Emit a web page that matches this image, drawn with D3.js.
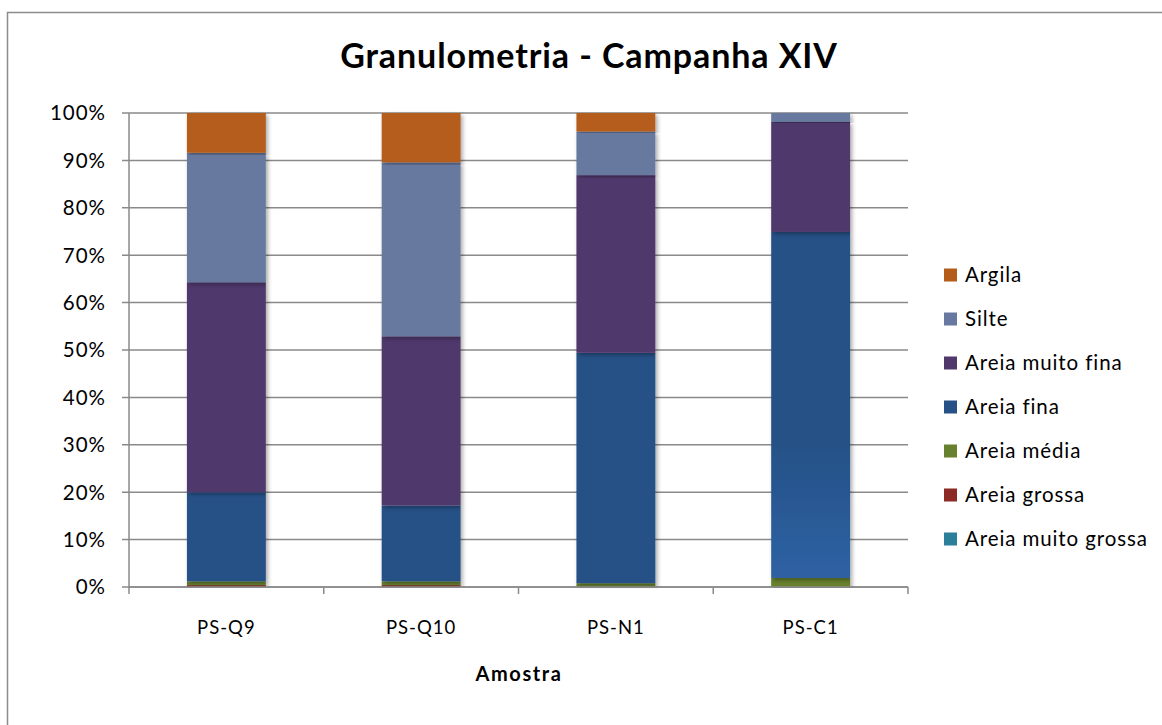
<!DOCTYPE html>
<html>
<head>
<meta charset="utf-8">
<script src="https://cdn.jsdelivr.net/npm/d3@7"></script>
<style>
  body { margin: 0; background: #fff; }
  text { font-family: Lato, "Liberation Sans", sans-serif; fill: #000; }
</style>
</head>
<body>
<div id="chart"></div>
<script>
// amostras
var categories = ["PS-Q9", "PS-Q10", "PS-N1", "PS-C1"];

// % por fração
var areiaMuitoGrossa = [0, 0, 0, 0];
var areiaGrossa = [0.4, 0.4, 0, 0];
var areiaMedia = [0.8, 0.8, 0.8, 1.9];
var areiaFina = [18.8, 16.0, 48.6, 73.0];
var areiaMuitoFina = [44.3, 35.7, 37.5, 23.2];
var silte = [27.3, 36.7, 9.2, 1.9];
var argila = [8.4, 10.4, 3.9, 0];

var yTicks = [0, 0.1, 0.2, 0.3, 0.4, 0.5, 0.6, 0.7, 0.8, 0.9, 1];

var series = [
	{ key: "Areia muito grossa", values: areiaMuitoGrossa, color: "#2b7f9b" },
	{ key: "Areia grossa", values: areiaGrossa, color: "#8c2a25" },
	{ key: "Areia média", values: areiaMedia, color: "#68812e" },
	{ key: "Areia fina", values: areiaFina, color: "#255187" },
	{ key: "Areia muito fina", values: areiaMuitoFina, color: "#50386c" },
	{ key: "Silte", values: silte, color: "#6779a0" },
	{ key: "Argila", values: argila, color: "#b45d1a" }
];

var w = 1162, h = 725;
var margin = { left: 129, right: 1162 - 908, top: 113, bottom: 725 - 587 };

var table = categories.map(function(c, i) {
	var row = { amostra: c };
	series.forEach(function(s) { row[s.key] = s.values[i]; });
	return row;
});

var stack = d3.stack()
	.keys(series.map(function(s) { return s.key; }))
	.offset(d3.stackOffsetExpand);
var stacked = stack(table);

var svg = d3.select("#chart").append("svg")
	.attr("width", w)
	.attr("height", h);

var defs = svg.append("defs");
var shadow = defs.append("filter").attr("id", "shadow")
	.attr("x", "-20%").attr("y", "-5%").attr("width", "140%").attr("height", "110%");
shadow.append("feDropShadow")
	.attr("dx", 2).attr("dy", 2).attr("stdDeviation", 2)
	.attr("flood-color", "#000").attr("flood-opacity", 0.35);

var grad = defs.append("linearGradient").attr("id", "finaGrad")
	.attr("x1", 0).attr("y1", 0).attr("x2", 0).attr("y2", 1);
grad.append("stop").attr("offset", "0.62").attr("stop-color", "#255187");
grad.append("stop").attr("offset", "1").attr("stop-color", "#2e62a4");

// moldura
svg.append("rect")
	.attr("x", 7.5).attr("y", 12.5)
	.attr("width", w).attr("height", h)
	.attr("fill", "none")
	.attr("stroke", "#8c8c8c")
	.attr("stroke-width", 1.5);

var x = d3.scaleBand()
	.domain(categories)
	.range([margin.left, w - margin.right])
	.paddingInner(0.595)
	.paddingOuter(0.2975);

var y = d3.scaleLinear()
	.domain([0, 1])
	.range([h - margin.bottom, margin.top]);

// grade
svg.append("g").selectAll("line")
	.data(yTicks)
	.enter().append("line")
	.attr("x1", margin.left - 7)
	.attr("x2", w - margin.right)
	.attr("y1", function(d) { return y(d); })
	.attr("y2", function(d) { return y(d); })
	.attr("stroke", "#8a8a8a")
	.attr("stroke-width", 1.5);

// eixo y
svg.append("line")
	.attr("x1", margin.left).attr("x2", margin.left)
	.attr("y1", y(0)).attr("y2", y(1))
	.attr("stroke", "#8a8a8a").attr("stroke-width", 1.5);

svg.append("g").selectAll("text")
	.data(yTicks)
	.enter().append("text")
	.attr("x", 106)
	.attr("y", function(d) { return y(d); })
	.attr("dy", "0.36em")
	.attr("text-anchor", "end")
	.style("font-size", "20.5px")
	.style("letter-spacing", "1px")
	.text(function(d) { return d3.format(".0%")(d); });

// barras
var layer = svg.append("g").selectAll("g")
	.data(stacked)
	.enter().append("g")
	.attr("fill", function(d, i) { return series[i].color; });

layer.selectAll("rect")
	.data(function(d) { return d; })
	.enter().append("rect")
	.attr("x", function(d) { return x(d.data.amostra); })
	.attr("width", x.bandwidth())
	.attr("y", function(d) { return y(d[1]); })
	.attr("height", function(d) { return y(d[0]) - y(d[1]); })
	.attr("filter", "url(#shadow)")
	.attr("fill", function(d) {
		var key = d3.select(this.parentNode).datum().key;
		if (key === "Areia fina" && d.data.amostra === "PS-C1") return "url(#finaGrad)";
		return null;
	});

// eixo x
svg.append("line")
	.attr("x1", margin.left).attr("x2", w - margin.right)
	.attr("y1", y(0)).attr("y2", y(0))
	.attr("stroke", "#8a8a8a").attr("stroke-width", 1.5);

var bounds = categories.map(function(c) { return x(c) - x.step() * x.paddingOuter(); });
bounds.push(w - margin.right);
svg.append("g").selectAll("line")
	.data(bounds)
	.enter().append("line")
	.attr("x1", function(d) { return d; })
	.attr("x2", function(d) { return d; })
	.attr("y1", y(0))
	.attr("y2", y(0) + 7)
	.attr("stroke", "#8a8a8a").attr("stroke-width", 1.5);

svg.append("g").selectAll("text")
	.data(categories)
	.enter().append("text")
	.attr("x", function(d) { return x(d) + x.bandwidth() / 2; })
	.attr("y", 634)
	.attr("text-anchor", "middle")
	.style("font-size", "18.5px")
	.style("letter-spacing", "1px")
	.text(function(d) { return d; });

svg.append("text")
	.attr("x", 519).attr("y", 681)
	.attr("text-anchor", "middle")
	.style("font-size", "20px")
	.style("letter-spacing", "1.6px")
	.style("font-weight", "bold")
	.text("Amostra");

svg.append("text")
	.attr("x", 589).attr("y", 68)
	.attr("text-anchor", "middle")
	.style("font-size", "34px")
	.style("letter-spacing", "0.9px")
	.style("font-weight", "bold")
	.text("Granulometria - Campanha XIV");

// legenda
var legendItems = series.slice().reverse();
var legend = svg.append("g").selectAll("g")
	.data(legendItems)
	.enter().append("g")
	.attr("transform", function(d, i) { return "translate(944," + (275 + i * 44) + ")"; });

legend.append("rect")
	.attr("x", 0).attr("y", -6.5)
	.attr("width", 13).attr("height", 13)
	.attr("fill", function(d) { return d.color; });

legend.append("text")
	.attr("x", 21)
	.attr("dy", "0.36em")
	.style("font-size", "20.5px")
	.style("letter-spacing", "0.9px")
	.text(function(d) { return d.key; });
</script>
</body>
</html>
